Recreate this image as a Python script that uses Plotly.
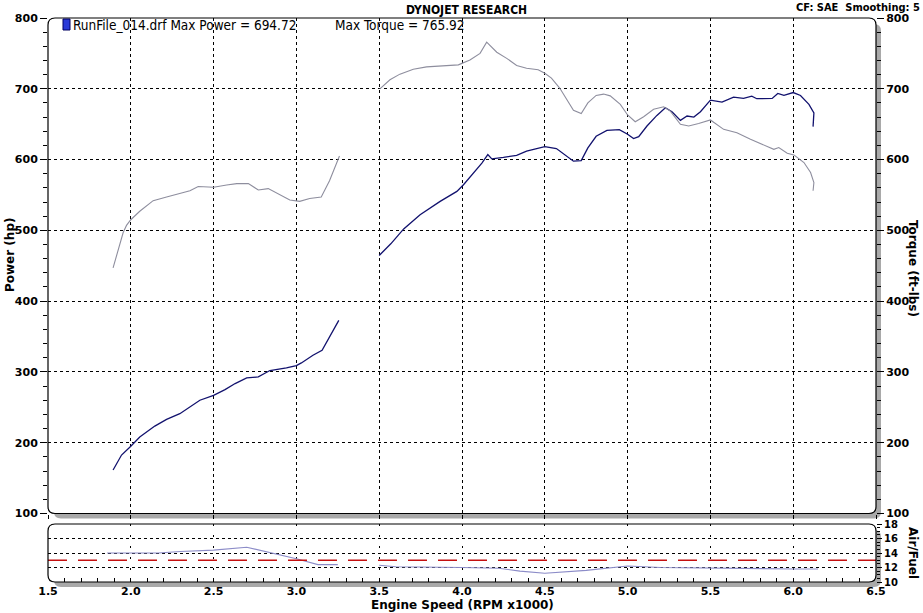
import plotly.graph_objects as go

# ---------------- data ----------------
rpm_low = [1.893, 1.923, 1.954, 1.974, 2.0, 2.054, 2.135, 2.216, 2.296, 2.357, 2.407, 2.5,
           2.579, 2.64, 2.71, 2.77, 2.83, 2.90, 2.96, 3.02, 3.08, 3.15, 3.20, 3.26]
torque_low = [447, 473, 497, 507, 515, 527, 542, 547, 552, 556, 562, 561,
              564, 566, 566, 557, 559, 550, 543, 541, 545, 547, 570, 605]

rpm_torque_high = [3.504, 3.565, 3.625, 3.706, 3.786, 3.867, 3.978, 4.048, 4.109, 4.149, 4.169,
                   4.21, 4.27, 4.33, 4.39, 4.46, 4.5, 4.54, 4.59, 4.633, 4.673, 4.72, 4.76,
                   4.81, 4.855, 4.895, 4.956, 5.0, 5.046, 5.097, 5.157, 5.218, 5.258, 5.319,
                   5.369, 5.429, 5.5, 5.58, 5.66, 5.742, 5.82, 5.883, 5.913, 5.964, 6.004,
                   6.065, 6.105, 6.125, 6.12]
torque_high = [700, 712.7, 720.7, 727.7, 731, 732.4, 733.8, 740.8, 750, 765.9, 761,
               751.6, 743, 733, 729, 726.8, 722, 715, 701, 684.5, 669.5, 665, 680,
               690.6, 692.5, 690, 678, 663, 653.5, 660.6, 671, 674.6, 668.5, 649.8,
               647.4, 651, 656, 642.7, 638, 628.6, 620.7, 614.5, 617, 609, 606.6,
               595.8, 581.7, 567.6, 556]

rpm_power_low = [1.893, 1.944, 2.0, 2.054, 2.145, 2.216, 2.296, 2.357, 2.417, 2.5, 2.569,
                 2.63, 2.70, 2.77, 2.84, 2.94, 3.0, 3.03, 3.10, 3.155, 3.21, 3.256]
power_low = [161.5, 182.6, 195, 208, 223.5, 233, 241, 250, 260, 267, 275,
             283.6, 291.5, 293, 302, 305.6, 309, 312.7, 323.5, 330.5, 352.6, 372.8]

rpm_power_high = [3.5, 3.57, 3.648, 3.747, 3.868, 3.969, 4.009, 4.07, 4.12, 4.156, 4.18, 4.25,
                  4.33, 4.39, 4.45, 4.50, 4.57, 4.63, 4.673, 4.72, 4.76, 4.81, 4.875, 4.95,
                  5.0, 5.036, 5.067, 5.117, 5.177, 5.228, 5.268, 5.319, 5.359, 5.4, 5.44,
                  5.5, 5.57, 5.64, 5.7, 5.75, 5.78, 5.873, 5.907, 5.944, 6.0, 6.044, 6.095,
                  6.125, 6.12]
power_high = [464.5, 481, 502, 522, 541, 555, 564.5, 581, 595, 607, 601, 603,
              606, 612, 616, 618.3, 615.5, 604.7, 597.7, 598.6, 616.4, 632.9, 641.3, 642.3,
              635.7, 629.6, 632.4, 647.4, 662.4, 673.2, 667.6, 655.4, 661.5, 660, 667.6,
              684, 681.2, 688.3, 686.4, 689.7, 686, 686.4, 693.4, 690.6, 694.7, 690.6, 678,
              666, 646.5]

rpm_afr_low = [1.857, 2.165, 2.3, 2.5, 2.7, 2.85, 3.0, 3.13, 3.25]
afr_low = [14.0, 14.0, 14.2, 14.4, 14.8, 14.0, 13.2, 12.4, 12.4]
rpm_afr_high = [3.5, 3.6, 4.0, 4.22, 4.35, 4.5, 4.75, 5.0, 5.2, 5.5, 6.0, 6.15]
afr_high = [12.3, 12.1, 12.0, 11.9, 11.5, 11.2, 11.6, 12.2, 12.0, 11.9, 11.8, 11.8]

AFR_TARGET = 13.0
MAX_POWER = "694.72"
MAX_TORQUE = "765.92"
RUN_NAME = "RunFile_014.drf"

x_tick_vals = [1.5, 2.0, 2.5, 3.0, 3.5, 4.0, 4.5, 5.0, 5.5, 6.0, 6.5]
x_tick_text = ["1.5", "2.0", "2.5", "3.0", "3.5", "4.0", "4.5", "5.0", "5.5", "6.0", "6.5"]
main_y_ticks = [100, 200, 300, 400, 500, 600, 700, 800]
afr_y_ticks = [10, 12, 14, 16, 18]

# ---------------- layout geometry ----------------
W, H = 923, 613
ML, MR, MT, MB = 48, 47, 18, 31
PW = W - ML - MR
PH = H - MT - MB


def px(xp):
    return (xp - ML) / PW


def py(yp):
    return (H - MB - yp) / PH


MAIN_TOP, MAIN_BOT = 18, 513.5
AFR_TOP, AFR_BOT = 524, 582

POWER_COLOR = "#12126e"
TORQUE_COLOR = "#8e8e9e"
AFR_COLOR = "#8c8cc8"
TEXT_FONT = "DejaVu Sans, Verdana, sans-serif"
NARROW_FONT = "Liberation Sans Narrow, DejaVu Sans Condensed, Arial Narrow, sans-serif"

fig = go.Figure()

fig.add_trace(go.Scatter(x=rpm_torque_high, y=torque_high, mode="lines",
                         line=dict(color=TORQUE_COLOR, width=1.1), xaxis="x", yaxis="y3",
                         showlegend=False, hoverinfo="skip"))
fig.add_trace(go.Scatter(x=rpm_low, y=torque_low, mode="lines",
                         line=dict(color=TORQUE_COLOR, width=1.1), xaxis="x", yaxis="y3",
                         showlegend=False, hoverinfo="skip"))
fig.add_trace(go.Scatter(x=rpm_power_low, y=power_low, mode="lines",
                         line=dict(color=POWER_COLOR, width=1.3), xaxis="x", yaxis="y",
                         showlegend=False, hoverinfo="skip"))
fig.add_trace(go.Scatter(x=rpm_power_high, y=power_high, mode="lines",
                         line=dict(color=POWER_COLOR, width=1.3), xaxis="x", yaxis="y",
                         showlegend=False, hoverinfo="skip"))
fig.add_trace(go.Scatter(x=rpm_afr_low, y=afr_low, mode="lines",
                         line=dict(color=AFR_COLOR, width=1.1), xaxis="x2", yaxis="y2",
                         showlegend=False, hoverinfo="skip"))
fig.add_trace(go.Scatter(x=rpm_afr_high, y=afr_high, mode="lines",
                         line=dict(color=AFR_COLOR, width=1.1), xaxis="x2", yaxis="y2",
                         showlegend=False, hoverinfo="skip"))

tickfont = dict(family=TEXT_FONT, size=11, color="black", weight="bold")
afr_tickfont = dict(family=TEXT_FONT, size=10, color="black", weight="bold")
grid = dict(showgrid=True, gridcolor="black", gridwidth=1, griddash="3px,3px", zeroline=False)

fig.update_layout(
    width=W, height=H,
    margin=dict(l=ML, r=MR, t=MT, b=MB, pad=0),
    paper_bgcolor="white", plot_bgcolor="rgba(0,0,0,0)",
    showlegend=False,
    xaxis=dict(domain=[0, 1], range=[1.5, 6.5], anchor="y", tickvals=x_tick_vals,
               showticklabels=False, ticks="outside", ticklen=4, tickcolor="black",
               showline=False, **grid),
    yaxis=dict(domain=[py(MAIN_BOT), py(MAIN_TOP)], range=[100, 800], anchor="x",
               tickvals=main_y_ticks, ticks="outside", ticklen=7, tickcolor="black",
               minor=dict(dtick=20, ticks="outside", ticklen=4, tickcolor="black", showgrid=False),
               tickfont=tickfont, showline=False, **grid),
    yaxis3=dict(overlaying="y", side="right", range=[100, 800], anchor="x",
                tickvals=main_y_ticks, ticks="outside", ticklen=7, tickcolor="black",
                minor=dict(dtick=20, ticks="outside", ticklen=4, tickcolor="black"),
                tickfont=tickfont, showgrid=False, zeroline=False, showline=False),
    xaxis2=dict(domain=[0, 1], range=[1.5, 6.5], anchor="y2", tickvals=x_tick_vals,
                ticktext=x_tick_text, ticks="inside", ticklen=4, tickcolor="black",
                ticklabelstandoff=1,
                minor=dict(dtick=0.1, ticks="inside", ticklen=4, tickcolor="black", showgrid=False),
                tickfont=tickfont, showline=False, showgrid=True, gridcolor="black",
                griddash="2px,9px", zeroline=False),
    yaxis2=dict(domain=[py(AFR_BOT), py(AFR_TOP)], range=[10, 18], anchor="x2", side="right",
                tickvals=afr_y_ticks, ticks="outside", ticklen=5, tickcolor="black",
                minor=dict(dtick=0.5, ticks="outside", ticklen=3, tickcolor="black", showgrid=False),
                tickfont=afr_tickfont, showline=False, **grid),
)


def rounded_rect(x0p, y0p, x1p, y1p, r=7):
    # pixel coords -> paper path with rounded corners
    X0, X1 = px(x0p), px(x1p)
    Y0, Y1 = py(y0p), py(y1p)  # y0p top, y1p bottom
    rx, ry = r / PW, r / PH
    return (f"M {X0+rx},{Y0} L {X1-rx},{Y0} Q {X1},{Y0} {X1},{Y0-ry} "
            f"L {X1},{Y1+ry} Q {X1},{Y1} {X1-rx},{Y1} L {X0+rx},{Y1} "
            f"Q {X0},{Y1} {X0},{Y1+ry} L {X0},{Y0-ry} Q {X0},{Y0} {X0+rx},{Y0} Z")


shapes = []
for (t, b) in [(MAIN_TOP, MAIN_BOT), (AFR_TOP, AFR_BOT)]:
    shapes.append(dict(type="path", xref="paper", yref="paper",
                       path=rounded_rect(ML + 6, t + 6, ML + PW + 5, b + 5),
                       fillcolor="#a9a9a9", line=dict(width=0), layer="below"))
    shapes.append(dict(type="path", xref="paper", yref="paper",
                       path=rounded_rect(ML, t, ML + PW, b),
                       fillcolor="white", line=dict(width=0), layer="below"))
# target AFR line
shapes.append(dict(type="line", xref="x2 domain", yref="y2", x0=0, x1=1,
                   y0=AFR_TARGET, y1=AFR_TARGET,
                   line=dict(color="#c41010", width=1.6, dash="19px,11px"), layer="above"))
for (t, b) in [(MAIN_TOP, MAIN_BOT), (AFR_TOP, AFR_BOT)]:
    shapes.append(dict(type="path", xref="paper", yref="paper",
                       path=rounded_rect(ML, t, ML + PW, b),
                       fillcolor="rgba(0,0,0,0)", line=dict(color="black", width=1.2),
                       layer="above"))
# legend swatch
shapes.append(dict(type="rect", xref="paper", yref="paper",
                   x0=px(63), x1=px(70), y0=py(30), y1=py(19),
                   fillcolor="#2a3ad8", line=dict(color="#000060", width=1), layer="above"))

annotations = [
    dict(text="DYNOJET RESEARCH", x=px(466), y=py(10), xref="paper", yref="paper",
         showarrow=False, xanchor="center", yanchor="middle",
         font=dict(family=NARROW_FONT, size=12, color="black", weight="bold")),
    dict(text="CF: SAE  Smoothing: 5", x=px(921), y=py(0), xref="paper", yref="paper",
         showarrow=False, xanchor="right", yanchor="top", borderpad=0,
         font=dict(family=NARROW_FONT, size=11, color="black", weight="bold")),
    dict(text=f"{RUN_NAME} Max Power = {MAX_POWER}", x=px(71), y=py(25),
         xref="paper", yref="paper", showarrow=False, xanchor="left", yanchor="middle",
         font=dict(family=NARROW_FONT, size=13.5, color="black")),
    dict(text=f"Max Torque = {MAX_TORQUE}", x=px(333), y=py(25),
         xref="paper", yref="paper", showarrow=False, xanchor="left", yanchor="middle",
         font=dict(family=NARROW_FONT, size=13.5, color="black")),
    dict(text="Power (hp)", x=px(10), y=py(255), xref="paper", yref="paper",
         showarrow=False, textangle=-90, xanchor="center", yanchor="middle",
         font=dict(family=TEXT_FONT, size=12, color="black", weight="bold")),
    dict(text="Torque (ft-lbs)", x=px(913), y=py(268), xref="paper", yref="paper",
         showarrow=False, textangle=90, xanchor="center", yanchor="middle",
         font=dict(family=TEXT_FONT, size=12, color="black", weight="bold")),
    dict(text="Air/Fuel", x=px(913), y=py(553), xref="paper", yref="paper",
         showarrow=False, textangle=90, xanchor="center", yanchor="middle",
         font=dict(family=TEXT_FONT, size=12, color="black", weight="bold")),
    dict(text="Engine Speed (RPM x1000)", x=px(462), y=py(613), xref="paper", yref="paper",
         showarrow=False, xanchor="center", yanchor="bottom", borderpad=0,
         font=dict(family=TEXT_FONT, size=12, color="black", weight="bold")),
]

fig.update_layout(shapes=shapes, annotations=annotations)
fig.write_html("out.html", config={"displayModeBar": False},
               post_script="document.body.style.margin='0';document.body.style.padding='0';"
                           "document.documentElement.style.overflow='hidden';")
